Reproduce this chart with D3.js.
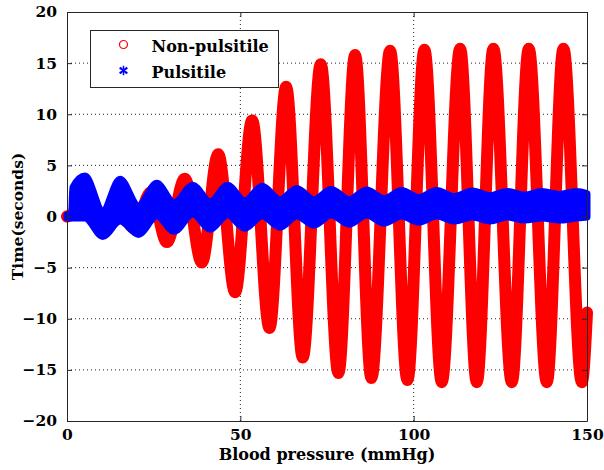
<!DOCTYPE html>
<html>
<head>
<meta charset="utf-8">
<script src="https://cdn.jsdelivr.net/npm/d3@7"></script>
<style>
  body { margin: 0; background: #fff; }
  text { font-family: "DejaVu Serif", serif; font-weight: bold; }
</style>
</head>
<body>
<div id="chart"></div>
<script>
// Data (peaks / troughs of each curve, marker centres)
const redX = [0, 4.9, 9.6, 14.6, 19.2, 24.3, 28.8, 34, 38.9, 43.6, 48.5, 53.4, 58.4, 63.2, 68.0, 73.2,
  78.3, 83.1, 87.8, 93.2, 98.2, 103.1, 108.1, 113.4, 118.2, 123.0, 128.3, 133.2, 138.4, 143.2, 148.5, 150]
const redY = [0, 0.4, -0.5, 1.2, -1.1, 2.4, -2.5, 3.7, -4.5, 6.1, -7.4, 9.4, -10.9, 12.7, -13.8, 14.9,
  -15.3, 15.8, -15.8, 16.2, -16.0, 16.3, -16.2, 16.4, -16.2, 16.4, -16.2, 16.4, -16.2, 16.4, -16.2, -9.4]

// blue band: upper / lower envelope of the star markers
const blueX = [0, 1.3, 1.7, 5.2, 10.3, 15.3, 20.6, 25.9, 30.9, 36.3, 41.3, 46.3, 51.3, 56.3, 61.5, 66.3,
  71.2, 76.2, 81.4, 86.4, 91.5, 96.5, 101.5, 106.6, 111.8, 117, 122, 127, 132, 137, 142, 147, 150]
const blueTop = [0.15, 0.15, 2.85, 3.95, 0.55, 3.65, 1.05, 3.25, 1.35, 3.05, 1.45, 3.05, 1.55, 2.95, 1.65, 2.75,
  1.65, 2.65, 1.65, 2.6, 1.75, 2.55, 1.85, 2.55, 1.95, 2.5, 2.05, 2.45, 2.1, 2.45, 2.15, 2.45, 2.25]
const blueBottom = [-0.15, -0.15, -0.15, -0.15, -1.95, -0.45, -1.75, 0.05, -1.45, 0.25, -1.25, 0.15, -1.15, 0.05, -1.05, 0.05,
  -0.85, 0.15, -0.75, 0.15, -0.65, 0.05, -0.55, 0.05, -0.45, -0.05, -0.45, -0.05, -0.35, -0.15, -0.35, -0.15, -0.05]

const xTicks = [0, 50, 100, 150]
const yTicks = [-20, -15, -10, -5, 0, 5, 10, 15, 20]
const legendLabels = ['Non-pulsitile', 'Pulsitile']

function draw() {
  // Dimensions
  const dimensions = {
    width: 604,
    height: 470,
    left: 67,
    right: 17,
    top: 12,
    bottom: 49
  }
  dimensions.ctrWidth = dimensions.width - dimensions.left - dimensions.right
  dimensions.ctrHeight = dimensions.height - dimensions.top - dimensions.bottom

  const svg = d3.select('#chart')
    .append('svg')
    .attr('width', dimensions.width)
    .attr('height', dimensions.height)

  const ctr = svg.append('g')
    .attr('transform', `translate(${dimensions.left}, ${dimensions.top})`)

  // Scales
  const xScale = d3.scaleLinear()
    .domain([0, 150])
    .range([0, dimensions.ctrWidth])

  const yScale = d3.scaleLinear()
    .domain([-20, 20])
    .range([dimensions.ctrHeight, 0])

  // Grid (dotted, like matlab)
  const grid = ctr.append('g')
  grid.selectAll('.gx')
    .data(xTicks.slice(1, -1))
    .join('line')
    .attr('x1', d => xScale(d)).attr('x2', d => xScale(d))
    .attr('y1', 0).attr('y2', dimensions.ctrHeight)
  grid.selectAll('.gy')
    .data(yTicks.slice(1, -1))
    .join('line')
    .attr('y1', d => yScale(d)).attr('y2', d => yScale(d))
    .attr('x1', 0).attr('x2', dimensions.ctrWidth)
  grid.selectAll('line')
    .attr('stroke', '#222')
    .attr('stroke-width', 1)
    .attr('stroke-dasharray', '1,3')

  // Red series: dense circle markers -> thick red stroke
  const redData = redX.map((x, i) => [x, redY[i]])
  const redLine = d3.line()
    .x(d => xScale(d[0]))
    .y(d => yScale(d[1]))
    .curve(d3.curveMonotoneX)

  ctr.append('path')
    .datum(redData)
    .attr('d', redLine)
    .attr('fill', 'none')
    .attr('stroke', '#ff0000')
    .attr('stroke-width', 12)
    .attr('stroke-linecap', 'round')
    .attr('stroke-linejoin', 'round')

  // Blue series: dense star markers -> filled band, stroke = marker size
  const blueData = blueX.map((x, i) => ({ x, top: blueTop[i], bottom: blueBottom[i] }))
  const blueArea = d3.area()
    .x(d => xScale(d.x))
    .y0(d => yScale(d.bottom))
    .y1(d => yScale(d.top))
    .curve(d3.curveMonotoneX)

  ctr.append('path')
    .datum(blueData)
    .attr('d', blueArea)
    .attr('fill', '#0000ff')
    .attr('stroke', '#0000ff')
    .attr('stroke-width', 7)
    .attr('stroke-linejoin', 'round')

  // Axes box with inward ticks on all sides
  const axisColor = '#262626'
  const tickLen = 5
  const axes = [
    { axis: d3.axisBottom(xScale).tickValues(xTicks), y: dimensions.ctrHeight, x: 0, labels: true, pad: 3 },
    { axis: d3.axisTop(xScale).tickValues(xTicks), y: 0, x: 0, labels: false, pad: 3 },
    { axis: d3.axisLeft(yScale).tickValues(yTicks), y: 0, x: 0, labels: true, pad: 5 },
    { axis: d3.axisRight(yScale).tickValues(yTicks), y: 0, x: dimensions.ctrWidth, labels: false, pad: 5 }
  ]
  axes.forEach(a => {
    a.axis.tickSizeInner(-tickLen).tickSizeOuter(0).tickPadding(tickLen + a.pad)
    const g = ctr.append('g')
      .attr('transform', `translate(${a.x}, ${a.y})`)
      .call(a.axis)
    g.select('.domain').attr('stroke', axisColor)
    g.selectAll('.tick line').attr('stroke', axisColor)
    g.selectAll('.tick text')
      .attr('fill', '#000')
      .style('font-size', '15.5px')
      .style('font-family', '"DejaVu Serif", serif')
      .style('font-weight', 'bold')
    if (!a.labels) g.selectAll('.tick text').remove()
  })

  // Axis labels
  svg.append('text')
    .attr('x', dimensions.left + dimensions.ctrWidth / 2)
    .attr('y', 460)
    .attr('text-anchor', 'middle')
    .style('font-size', '16px')
    .text('Blood pressure (mmHg)')

  svg.append('text')
    .attr('transform', `translate(23, ${dimensions.top + dimensions.ctrHeight / 2}) rotate(-90)`)
    .attr('text-anchor', 'middle')
    .style('font-size', '15.5px')
    .text('Time(seconds)')

  // Legend
  const legend = svg.append('g')
    .attr('transform', 'translate(90.5, 30.5)')

  legend.append('rect')
    .attr('width', 188)
    .attr('height', 57)
    .attr('fill', '#fff')
    .attr('stroke', axisColor)

  const rows = legend.selectAll('.row')
    .data(legendLabels)
    .join('g')
    .attr('transform', (d, i) => `translate(0, ${14 + i * 26})`)

  rows.append('text')
    .attr('x', 61)
    .attr('y', 7)
    .style('font-size', '16px')
    .text(d => d)

  rows.filter((d, i) => i === 0)
    .append('circle')
    .attr('cx', 33)
    .attr('cy', 0)
    .attr('r', 4)
    .attr('fill', 'none')
    .attr('stroke', '#ff0000')
    .attr('stroke-width', 1.2)

  const star = rows.filter((d, i) => i === 1)
    .append('g')
    .attr('transform', 'translate(33, 0)')
  star.append('path')
    .attr('d', d3.symbol(d3.symbolAsterisk, 60)())
    .attr('fill', 'none')
    .attr('stroke', '#0000ff')
    .attr('stroke-width', 1.5)
  star.append('path')
    .attr('d', d3.symbol(d3.symbolTimes, 30)())
    .attr('fill', 'none')
    .attr('stroke', '#0000ff')
    .attr('stroke-width', 1.5)
}

draw()
</script>
</body>
</html>
